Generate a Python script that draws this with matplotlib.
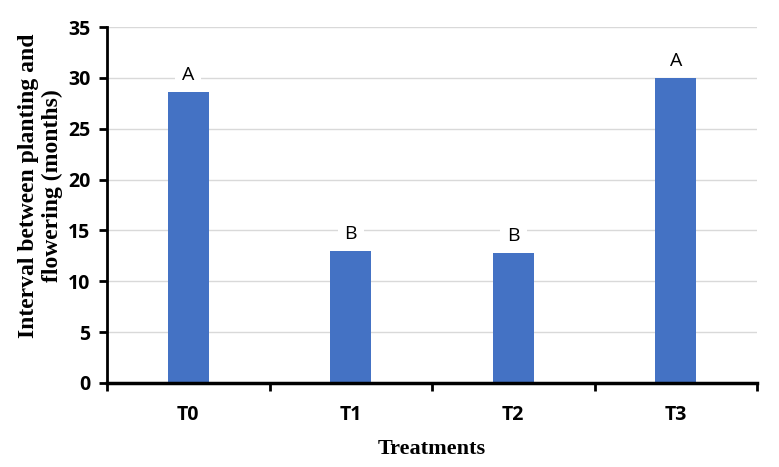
import matplotlib.pyplot as plt

treatments = ['T0', 'T1', 'T2', 'T3']
interval = [28.6, 13.0, 12.8, 30.0]
letters = ['A', 'B', 'B', 'A']

fig = plt.figure(figsize=(7.79, 4.67), dpi=100)
ax = fig.add_axes([0.1374, 0.18, 0.8344, 0.762])

x = list(range(len(treatments)))
ax.bar(x, interval, width=0.25, color='#4472c4', zorder=3)

for xi, v, l in zip(x, interval, letters):
    ax.text(xi, v + 0.8, l, ha='center', va='bottom', fontsize=14,
            family='Open Sans', zorder=4,
            bbox=dict(facecolor='white', edgecolor='none', pad=5))

ax.set_xlim(-0.5, 3.5)
ax.set_ylim(0, 35)
ax.set_yticks(range(0, 36, 5))
ax.set_xticks(x)
ax.set_xticklabels(treatments)
ax.set_xticks([-0.5, 0.5, 1.5, 2.5, 3.5], minor=True)
ax.tick_params(axis='x', which='major', length=0, pad=16)
ax.tick_params(axis='x', which='minor', length=6, width=2, direction='out')
ax.tick_params(axis='y', length=6, width=2, direction='out', pad=6)
for lab in ax.get_xticklabels() + ax.get_yticklabels():
    lab.set_fontfamily('Open Sans')
    lab.set_fontweight('bold')
    lab.set_fontsize(14)

ax.grid(axis='y', color='#d9d9d9', linewidth=1, zorder=0)
for s in ['top', 'right']:
    ax.spines[s].set_visible(False)
ax.spines['left'].set_linewidth(2)
ax.spines['bottom'].set_linewidth(2.5)
ax.spines['bottom'].set_zorder(5)

ax.set_xlabel('Treatments', fontfamily='Liberation Serif', fontweight='bold',
              fontsize=16, labelpad=10)
ax.set_ylabel('Interval between planting and\nflowering (months)',
              fontfamily='Liberation Serif', fontweight='bold', fontsize=17,
              linespacing=1.15)
ax.yaxis.set_label_coords(-0.068, 0.555)

fig.savefig('out.png', dpi=100)
